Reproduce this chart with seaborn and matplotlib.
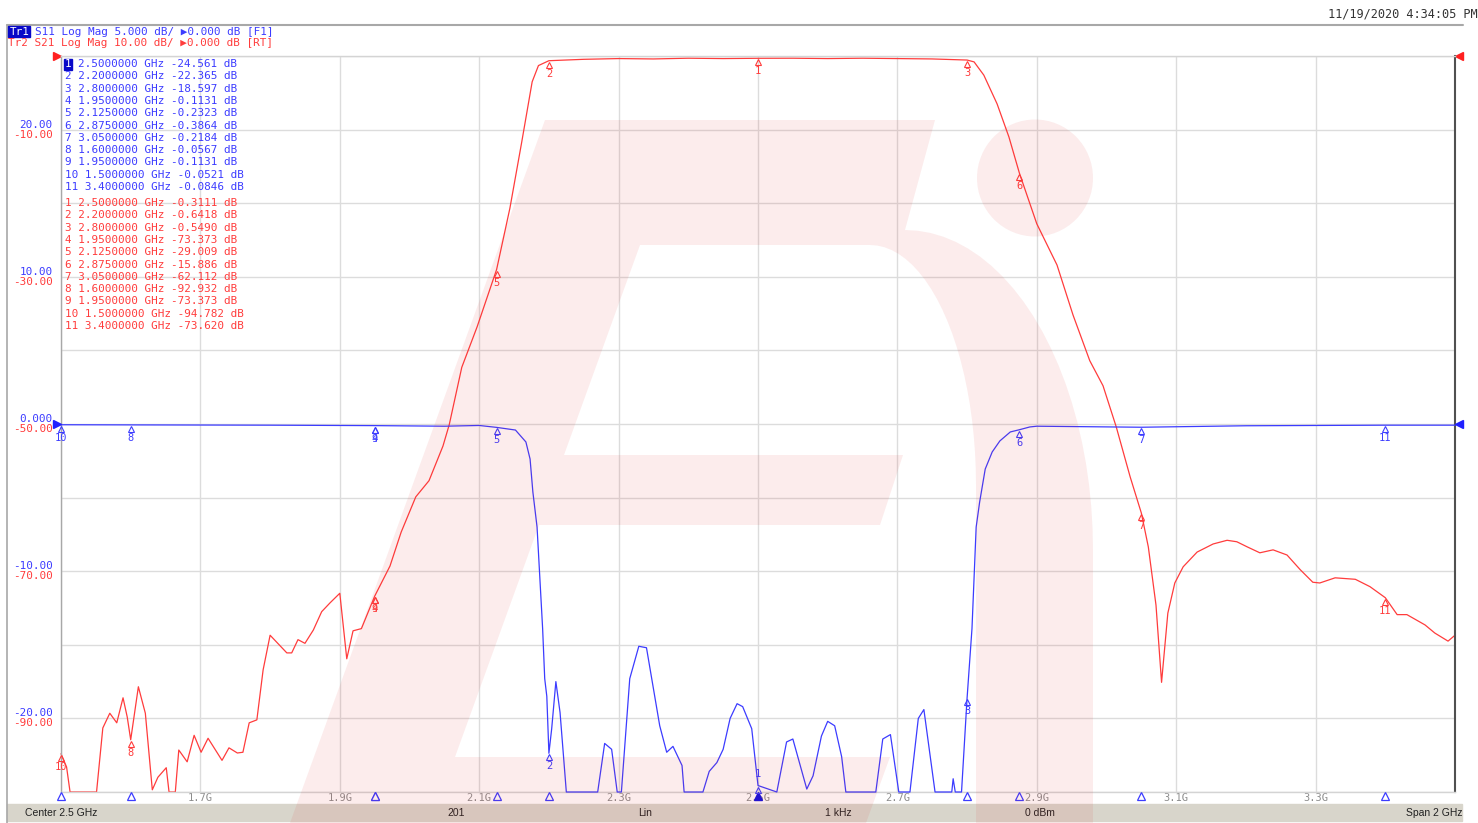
import matplotlib
matplotlib.use("Agg")
import matplotlib.pyplot as plt
import seaborn as sns
import numpy as np
import pandas as pd
from matplotlib.path import Path
from matplotlib.patches import PathPatch, Ellipse, Rectangle
from matplotlib.transforms import offset_copy, blended_transform_factory

W, H = 1478, 823
BLUE = "#3c3cff"
RED = "#ff3c3c"
MONO = ["DejaVu Sans Mono", "DejaVu Sans"]
FS = 7.9

# Tr2 S21 (red), GHz / dB
s21_freq = [1.500, 1.508, 1.513, 1.551, 1.560, 1.570, 1.580, 1.589, 1.595, 1.600,
            1.611, 1.621, 1.631, 1.639, 1.651, 1.655, 1.664, 1.669, 1.681, 1.691, 1.701,
            1.711, 1.731, 1.741, 1.753, 1.761, 1.770, 1.781, 1.790, 1.800,
            1.811, 1.824, 1.831, 1.840, 1.850, 1.862, 1.874, 1.886, 1.900,
            1.910, 1.919, 1.931, 1.950, 1.972, 1.988, 2.009, 2.028, 2.048, 2.057,
            2.075, 2.097, 2.125, 2.144, 2.161, 2.176, 2.185, 2.200,
            2.25, 2.30, 2.35, 2.40, 2.45, 2.50, 2.55, 2.60, 2.65, 2.70, 2.75, 2.80,
            2.810, 2.824, 2.843, 2.860, 2.875, 2.900, 2.929, 2.952, 2.976, 2.995,
            3.014, 3.034, 3.050, 3.060, 3.071, 3.079, 3.088, 3.098, 3.110, 3.130,
            3.153, 3.173, 3.187, 3.202, 3.220, 3.239, 3.259, 3.278, 3.296, 3.306,
            3.328, 3.357, 3.378, 3.400, 3.417, 3.431, 3.457, 3.471, 3.490, 3.500]
s21_db = [-94.8, -96.6, -100, -100, -91.3, -89.3, -90.6, -87.2, -89.8, -92.9,
          -85.7, -89.3, -99.7, -98.0, -96.7, -100, -100, -94.3, -95.9, -92.3, -94.6,
          -92.7, -95.7, -94.0, -94.7, -94.6, -90.6, -90.2, -83.4, -78.7,
          -79.8, -81.1, -81.1, -79.3, -79.8, -78.0, -75.5, -74.3, -73.0,
          -81.9, -78.1, -77.8, -73.4, -69.3, -64.7, -59.9, -57.7, -53.0, -50.1,
          -42.3, -36.8, -29.0, -20.7, -11.7, -3.5, -1.3, -0.64,
          -0.45, -0.35, -0.40, -0.30, -0.35, -0.31, -0.30, -0.35, -0.30, -0.35, -0.40, -0.55,
          -0.8, -2.6, -6.5, -11.0, -15.9, -22.8, -28.4, -35.2, -41.4, -44.8,
          -50.4, -57.2, -62.1, -66.7, -74.6, -85.1, -75.7, -71.6, -69.4, -67.4,
          -66.3, -65.8, -66.0, -66.7, -67.5, -67.1, -67.8, -69.8, -71.5, -71.6,
          -70.9, -71.1, -72.1, -73.6, -75.9, -75.9, -77.3, -78.4, -79.5, -78.7]

# Tr1 S11 (blue), GHz / dB
s11_freq = [1.500, 1.600, 1.800, 1.950, 2.050, 2.100, 2.125, 2.152, 2.167, 2.173,
            2.177, 2.183, 2.191, 2.194, 2.197, 2.200, 2.204, 2.210, 2.216, 2.225,
            2.270, 2.280, 2.290, 2.298, 2.304, 2.316, 2.329, 2.340, 2.359, 2.369,
            2.378, 2.391, 2.394, 2.421, 2.430, 2.441, 2.450, 2.460, 2.470, 2.478,
            2.491, 2.500, 2.527, 2.541, 2.550, 2.570, 2.579, 2.591, 2.600, 2.610,
            2.620, 2.626, 2.669, 2.679, 2.690, 2.702, 2.718, 2.730, 2.738, 2.754,
            2.778, 2.780, 2.783, 2.792, 2.800, 2.807, 2.813, 2.818, 2.826, 2.836,
            2.847, 2.862, 2.875, 2.890, 2.900, 3.050, 3.200, 3.400, 3.500]
s11_db = [-0.05, -0.06, -0.08, -0.11, -0.15, -0.10, -0.23, -0.41, -1.22, -2.38,
          -4.62, -7.0, -13.9, -17.3, -18.5, -22.37, -20.7, -17.5, -19.6, -25,
          -25, -21.7, -22.1, -25, -25, -17.3, -15.1, -15.2, -20.5, -22.3,
          -21.9, -23.2, -25, -25, -23.6, -23.0, -22.1, -20.0, -19.0, -19.2,
          -20.7, -24.56, -25, -21.6, -21.4, -24.8, -23.9, -21.2, -20.2, -20.5,
          -22.6, -25, -25, -21.4, -21.1, -25, -25, -20.0, -19.4, -25,
          -25, -24.1, -25, -25, -18.6, -13.9, -7.0, -5.3, -3.06, -1.9,
          -1.15, -0.54, -0.39, -0.20, -0.15, -0.22, -0.12, -0.08, -0.08]

# markers 1..11
marker_freq = [2.5, 2.2, 2.8, 1.95, 2.125, 2.875, 3.05, 1.6, 1.95, 1.5, 3.4]
marker_s11 = [-24.561, -22.365, -18.597, -0.1131, -0.2323, -0.3864, -0.2184, -0.0567, -0.1131, -0.0521, -0.0846]
marker_s21 = [-0.3111, -0.6418, -0.5490, -73.373, -29.009, -15.886, -62.112, -92.932, -73.373, -94.782, -73.620]

x_grid = [1.5, 1.7, 1.9, 2.1, 2.3, 2.5, 2.7, 2.9, 3.1, 3.3, 3.5]
x_labels = ["", "1.7G", "1.9G", "2.1G", "2.3G", "2.5G", "2.7G", "2.9G", "3.1G", "3.3G", ""]
s21_grid = [-100, -90, -80, -70, -60, -50, -40, -30, -20, -10, 0]
s21_labels = ["", "-90.00", "", "-70.00", "", "-50.00", "", "-30.00", "", "-10.00", ""]
s11_ticks = [-20, -10, 0, 10, 20]
s11_labels = ["-20.00", "-10.00", "0.000", "10.00", "20.00"]

header_tr1 = "S11 Log Mag 5.000 dB/ \u25b60.000 dB [F1]"
header_tr2 = "Tr2 S21 Log Mag 10.00 dB/ \u25b60.000 dB [RT]"
timestamp = "11/19/2020 4:34:05 PM"
status_items = ["Center 2.5 GHz", "201", "Lin", "1 kHz", "0 dBm", "Span 2 GHz"]


def fmt_val(v):
    digits = len(str(int(abs(v))))
    return f"{v:.{5 - digits}f}"


def marker_line(i, f, v):
    return f"{i} {f:.7f} GHz {fmt_val(v)} dB"


def tag_markers(ax, values, color):
    lo, hi = ax.get_ylim()
    tri = offset_copy(ax.transData, fig=ax.figure, x=0, y=-4, units="dots")
    for i, (f, v) in enumerate(zip(marker_freq, values), start=1):
        ax.plot([f], [v], marker="^", ms=4.5, mfc="none", mec=color, mew=0.8,
                transform=tri, clip_on=False, zorder=6)
        near_bottom = (v - lo) / (hi - lo) < 0.04
        ax.annotate(str(i), (f, v), xytext=(0, 7 if near_bottom else -8),
                    textcoords="offset pixels", ha="center",
                    va="bottom" if near_bottom else "top",
                    color=color, fontsize=7.5, family=MONO, zorder=6)


def draw_watermark(ov):
    # logo drawn over the whole screen shot, in pixels
    t = np.linspace(np.pi / 2, 0, 24)
    outer = list(zip(905 + 188 * np.cos(t), 550 - 320 * np.sin(t)))
    inner = list(zip(870 + 106 * np.cos(t[::-1]), 485 - 240 * np.sin(t[::-1])))
    pts = ([(290, 823), (545, 120), (935, 120)] + outer + [(1093, 823), (976, 823)]
           + inner + [(640, 245), (564, 455), (903, 455), (880, 525), (539, 525),
                      (455, 757), (890, 757), (866, 823), (290, 823)])
    codes = [Path.MOVETO] + [Path.LINETO] * (len(pts) - 2) + [Path.CLOSEPOLY]
    ov.add_patch(PathPatch(Path(pts, codes), fc="#e03030", ec="none", alpha=0.09, zorder=20))
    ov.add_patch(Ellipse((1035, 178), 116, 117, fc="#e03030", ec="none", alpha=0.09, zorder=20))


sns.set_theme(style="white")
plt.rcParams["font.family"] = ["DejaVu Sans"]

fig = plt.figure(figsize=(W / 100, H / 100), dpi=100)
fig.patch.set_facecolor("white")
ax = fig.add_axes([61 / W, 1 - 792 / H, (1455 - 61) / W, (792 - 56) / H])
ax2 = ax.twinx()

s21 = pd.DataFrame({"freq": s21_freq, "db": s21_db})
s11 = pd.DataFrame({"freq": s11_freq, "db": s11_db})
sns.lineplot(data=s21, x="freq", y="db", ax=ax, color=RED, lw=0.9, estimator=None, sort=False)
sns.lineplot(data=s11, x="freq", y="db", ax=ax2, color=BLUE, lw=0.9, estimator=None, sort=False)
for a in (ax, ax2):
    a.set_xlabel("")
    a.set_ylabel("")
    for ln in a.lines:
        ln.set_clip_on(False)

ax.set_xlim(1.5, 3.5)
ax.set_ylim(-100, 0)
ax2.set_ylim(-25, 25)

ax.set_xticks(x_grid, x_labels)
ax.set_yticks(s21_grid, s21_labels)
ax.grid(True, color="#dcdcdc", lw=1)
ax.set_axisbelow(True)
ax.tick_params(axis="x", length=0, pad=1, labelsize=7.5, labelcolor="#8c8c8c")
ax.tick_params(axis="y", length=0, pad=6, labelsize=FS, labelcolor=RED)
for t in ax.get_xticklabels():
    t.set_fontfamily(MONO)
for t in ax.get_yticklabels():
    t.set_fontfamily(MONO)
    t.set_va("top")

ax2.set_yticks(s11_ticks, s11_labels)
ax2.yaxis.tick_left()
ax2.grid(False)
ax2.tick_params(axis="y", length=0, pad=6, labelsize=FS, labelcolor=BLUE)
for t in ax2.get_yticklabels():
    t.set_fontfamily(MONO)
    t.set_va("bottom")

for name, sp in ax.spines.items():
    sp.set_color({"left": "#a8a8a8", "right": "#505050"}.get(name, "#d4d4d4"))
    sp.set_linewidth(1.5 if name == "right" else 1.0)
for sp in ax2.spines.values():
    sp.set_visible(False)

# reference position arrows
left = offset_copy(ax.transData, fig=fig, x=-4, y=0, units="dots")
right = offset_copy(ax.transData, fig=fig, x=4, y=0, units="dots")
ax.plot([1.5], [0], marker=">", ms=6, color="#ff2020", transform=left, clip_on=False)
ax.plot([3.5], [0], marker="<", ms=6, color="#ff2020", transform=right, clip_on=False)
left2 = offset_copy(ax2.transData, fig=fig, x=-4, y=0, units="dots")
right2 = offset_copy(ax2.transData, fig=fig, x=4, y=0, units="dots")
ax2.plot([1.5], [0], marker=">", ms=6, color="#2020ff", transform=left2, clip_on=False)
ax2.plot([3.5], [0], marker="<", ms=6, color="#2020ff", transform=right2, clip_on=False)

# marker tags on traces and stimulus triangles under the grid
tag_markers(ax, marker_s21, RED)
tag_markers(ax2, marker_s11, BLUE)
stim = offset_copy(blended_transform_factory(ax.transData, ax.transAxes), fig=fig, x=0, y=-4, units="dots")
ax.plot(marker_freq[1:], [0] * (len(marker_freq) - 1), ls="none", marker="^", ms=6,
        mfc="white", mec=BLUE, mew=0.9, transform=stim, clip_on=False, zorder=7)
ax.plot(marker_freq[:1], [0], ls="none", marker="^", ms=6, color="#1010e0",
        transform=stim, clip_on=False, zorder=7)

# screen furniture in pixel coordinates
ov = fig.add_axes([0, 0, 1, 1], zorder=10)
ov.set_xlim(0, W)
ov.set_ylim(H, 0)
ov.axis("off")

ov.plot([7, 1463], [24.5, 24.5], color="#a8a8a8", lw=1.5)
ov.plot([7, 7], [24.5, 823], color="#a8a8a8", lw=1.2)
ov.text(1328, 14, timestamp, color="#333333", fontsize=8.6, family=MONO, va="center")

ov.add_patch(Rectangle((8, 26), 22, 11, color="#0808c8", zorder=3))
ov.text(9.5, 31.5, "Tr1", color="white", fontsize=FS, family=MONO, va="center", zorder=4)
ov.text(35, 31.5, header_tr1, color=BLUE, fontsize=FS, family=MONO, va="center")
ov.text(8, 42.5, header_tr2, color=RED, fontsize=FS, family=MONO, va="center")

for i, f in enumerate(marker_freq):
    y1 = 64 + i * 12.3
    if i == 0:
        # active marker: number in a filled box, rest of the line after it
        ov.add_patch(Rectangle((63.5, y1 - 5.5), 8, 11, color="#0808c8", zorder=3))
        ov.text(64.3, y1, "1", color="white", fontsize=FS, family=MONO, va="center", zorder=4)
        ov.text(78, y1, marker_line(1, f, marker_s11[i])[2:], color=BLUE,
                fontsize=FS, family=MONO, va="center")
    else:
        ov.text(65, y1, marker_line(i + 1, f, marker_s11[i]), color=BLUE,
                fontsize=FS, family=MONO, va="center")
    ov.text(65, 203 + i * 12.3, marker_line(i + 1, f, marker_s21[i]), color=RED,
            fontsize=FS, family=MONO, va="center")

ov.add_patch(Rectangle((7, 804), 1455, 17, color="#d8d5cb", zorder=1))
status_x = [25, 456, 645, 838, 1040, 1462]
status_ha = ["left", "center", "center", "center", "center", "right"]
for s, x, ha in zip(status_items, status_x, status_ha):
    ov.text(x, 812.5, s, color="#202020", fontsize=7.5, family=["Liberation Sans"],
            ha=ha, va="center", zorder=2)

draw_watermark(ov)

fig.savefig("out.png", dpi=100)
